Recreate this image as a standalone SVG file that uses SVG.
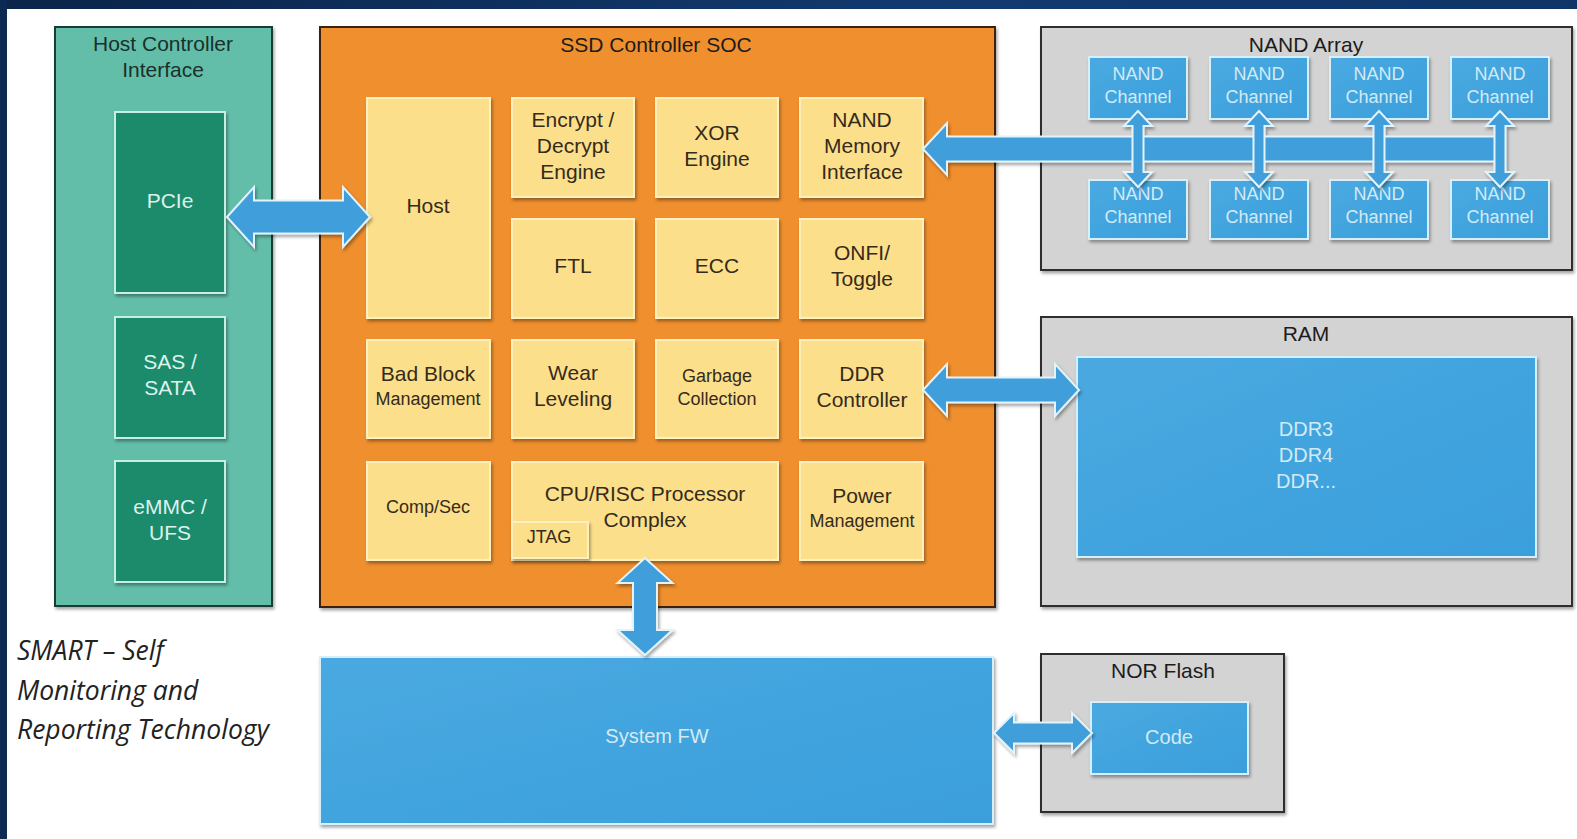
<svg xmlns="http://www.w3.org/2000/svg" width="1577" height="839" viewBox="0 0 1577 839">
  <defs>
    <filter id="shadow" x="-10%" y="-10%" width="125%" height="130%">
      <feDropShadow dx="1.5" dy="2.5" stdDeviation="1.8" flood-color="#000" flood-opacity="0.35"/>
    </filter>
    <linearGradient id="navy" x1="0" y1="0" x2="1" y2="0">
      <stop offset="0" stop-color="#0b2449"/>
      <stop offset="0.6" stop-color="#123a70"/>
      <stop offset="1" stop-color="#0f3568"/>
    </linearGradient>
    <linearGradient id="blueFill" x1="0" y1="0" x2="1" y2="1">
      <stop offset="0" stop-color="#4aa9e0"/>
      <stop offset="1" stop-color="#3a9fdc"/>
    </linearGradient>
    <style>
      text { font-family: "Liberation Sans", Arial, sans-serif; text-anchor: middle; }
      .outer-hci { fill: #62bea9; stroke: #1e3a33; stroke-width: 2; }
      .outer-soc { fill: #ef8f2e; stroke: #3a2410; stroke-width: 2; }
      .outer-gray { fill: #d3d3d3; stroke: #2e2e2e; stroke-width: 2; }
      .teal { fill: #1f8b6c; stroke: #c6efe3; stroke-width: 2; }
      .yellow { fill: #fcdf8a; stroke: #fff1bf; stroke-width: 2; }
      .blue { fill: url(#blueFill); stroke: #d6f0fb; stroke-width: 2; }
      .arrow { fill: #3f9fdb; stroke: #e2f3fb; stroke-width: 2; stroke-linejoin: miter; }
      .title { font-size: 21px; fill: #1c1c1c; }
      .hci-title { font-size: 21px; fill: #1a302b; }
      .lbl { font-size: 21px; fill: #352b1a; }
      .lbl-s { font-size: 18px; fill: #352b1a; }
      .lt { font-size: 21px; fill: #dcf2ec; }
      .blt { font-size: 20px; fill: #d3eaf5; }
      .ch { font-size: 18px; fill: #d3eaf5; }
      .note { font-family: "Open Sans", "Noto Sans", sans-serif; font-style: italic; font-size: 26.5px; fill: #222222; text-anchor: start; }
    </style>
  </defs>

  <!-- page background with dark frame at top and left -->
  <rect x="0" y="0" width="1577" height="839" fill="#ffffff"/>
  <rect x="0" y="0" width="1577" height="9" fill="url(#navy)"/>
  <rect x="0" y="0" width="7" height="839" fill="#0c2a52"/>

  <!-- Host Controller Interface -->
  <g id="host-controller-interface">
    <rect class="outer-hci" x="55" y="27" width="217" height="579" filter="url(#shadow)"/>
    <text class="hci-title" x="163" y="51">Host Controller</text>
    <text class="hci-title" x="163" y="77">Interface</text>
  </g>
  <g id="pcie">
    <rect class="teal" x="115" y="112" width="110" height="181" filter="url(#shadow)"/>
    <text class="lt" x="170" y="208">PCIe</text>
  </g>
  <g id="sas-sata">
    <rect class="teal" x="115" y="317" width="110" height="121" filter="url(#shadow)"/>
    <text class="lt" x="170" y="369">SAS /</text>
    <text class="lt" x="170" y="395">SATA</text>
  </g>
  <g id="emmc-ufs">
    <rect class="teal" x="115" y="461" width="110" height="121" filter="url(#shadow)"/>
    <text class="lt" x="170" y="514">eMMC /</text>
    <text class="lt" x="170" y="540">UFS</text>
  </g>

  <!-- SSD Controller SOC -->
  <g id="ssd-controller-soc">
    <rect class="outer-soc" x="320" y="27" width="675" height="580" filter="url(#shadow)"/>
    <text class="title" x="656" y="52">SSD Controller SOC</text>
  </g>
  <g id="host">
    <rect class="yellow" x="367" y="98" width="123" height="220" filter="url(#shadow)"/>
    <text class="lbl" x="428" y="213">Host</text>
  </g>
  <g id="encrypt-decrypt">
    <rect class="yellow" x="512" y="98" width="122" height="99" filter="url(#shadow)"/>
    <text class="lbl" x="573" y="127">Encrypt /</text>
    <text class="lbl" x="573" y="153">Decrypt</text>
    <text class="lbl" x="573" y="179">Engine</text>
  </g>
  <g id="xor-engine">
    <rect class="yellow" x="656" y="98" width="122" height="99" filter="url(#shadow)"/>
    <text class="lbl" x="717" y="140">XOR</text>
    <text class="lbl" x="717" y="166">Engine</text>
  </g>
  <g id="nand-memory-interface">
    <rect class="yellow" x="800" y="98" width="123" height="99" filter="url(#shadow)"/>
    <text class="lbl" x="862" y="127">NAND</text>
    <text class="lbl" x="862" y="153">Memory</text>
    <text class="lbl" x="862" y="179">Interface</text>
  </g>
  <g id="ftl">
    <rect class="yellow" x="512" y="219" width="122" height="99" filter="url(#shadow)"/>
    <text class="lbl" x="573" y="273">FTL</text>
  </g>
  <g id="ecc">
    <rect class="yellow" x="656" y="219" width="122" height="99" filter="url(#shadow)"/>
    <text class="lbl" x="717" y="273">ECC</text>
  </g>
  <g id="onfi-toggle">
    <rect class="yellow" x="800" y="219" width="123" height="99" filter="url(#shadow)"/>
    <text class="lbl" x="862" y="260">ONFI/</text>
    <text class="lbl" x="862" y="286">Toggle</text>
  </g>
  <g id="bad-block-management">
    <rect class="yellow" x="367" y="340" width="123" height="98" filter="url(#shadow)"/>
    <text class="lbl" x="428" y="381">Bad Block</text>
    <text class="lbl-s" x="428" y="405">Management</text>
  </g>
  <g id="wear-leveling">
    <rect class="yellow" x="512" y="340" width="122" height="98" filter="url(#shadow)"/>
    <text class="lbl" x="573" y="380">Wear</text>
    <text class="lbl" x="573" y="406">Leveling</text>
  </g>
  <g id="garbage-collection">
    <rect class="yellow" x="656" y="340" width="122" height="98" filter="url(#shadow)"/>
    <text class="lbl-s" x="717" y="382">Garbage</text>
    <text class="lbl-s" x="717" y="405">Collection</text>
  </g>
  <g id="ddr-controller">
    <rect class="yellow" x="800" y="340" width="123" height="98" filter="url(#shadow)"/>
    <text class="lbl" x="862" y="381">DDR</text>
    <text class="lbl" x="862" y="407">Controller</text>
  </g>
  <g id="comp-sec">
    <rect class="yellow" x="367" y="462" width="123" height="98" filter="url(#shadow)"/>
    <text class="lbl-s" x="428" y="513">Comp/Sec</text>
  </g>
  <g id="cpu-risc-processor-complex">
    <rect class="yellow" x="512" y="462" width="266" height="98" filter="url(#shadow)"/>
    <text class="lbl" x="645" y="501">CPU/RISC Processor</text>
    <text class="lbl" x="645" y="527">Complex</text>
  </g>
  <g id="jtag">
    <rect class="yellow" x="512" y="522" width="76" height="36" filter="url(#shadow)"/>
    <text class="lbl-s" x="549" y="543">JTAG</text>
  </g>
  <g id="power-management">
    <rect class="yellow" x="800" y="462" width="123" height="98" filter="url(#shadow)"/>
    <text class="lbl" x="862" y="503">Power</text>
    <text class="lbl-s" x="862" y="527">Management</text>
  </g>

  <!-- NAND Array -->
  <g id="nand-array">
    <rect class="outer-gray" x="1041" y="27" width="531" height="243" filter="url(#shadow)"/>
    <text class="title" x="1306" y="52">NAND Array</text>
  </g>
  <g id="nand-channel-1">
    <rect class="blue" x="1089" y="57" width="98" height="62" filter="url(#shadow)"/>
    <text class="ch" x="1138" y="80">NAND</text>
    <text class="ch" x="1138" y="103">Channel</text>
  </g>
  <g id="nand-channel-2">
    <rect class="blue" x="1210" y="57" width="98" height="62" filter="url(#shadow)"/>
    <text class="ch" x="1259" y="80">NAND</text>
    <text class="ch" x="1259" y="103">Channel</text>
  </g>
  <g id="nand-channel-3">
    <rect class="blue" x="1330" y="57" width="98" height="62" filter="url(#shadow)"/>
    <text class="ch" x="1379" y="80">NAND</text>
    <text class="ch" x="1379" y="103">Channel</text>
  </g>
  <g id="nand-channel-4">
    <rect class="blue" x="1451" y="57" width="98" height="62" filter="url(#shadow)"/>
    <text class="ch" x="1500" y="80">NAND</text>
    <text class="ch" x="1500" y="103">Channel</text>
  </g>
  <g id="nand-channel-5">
    <rect class="blue" x="1089" y="180" width="98" height="59" filter="url(#shadow)"/>
    <text class="ch" x="1138" y="200">NAND</text>
    <text class="ch" x="1138" y="223">Channel</text>
  </g>
  <g id="nand-channel-6">
    <rect class="blue" x="1210" y="180" width="98" height="59" filter="url(#shadow)"/>
    <text class="ch" x="1259" y="200">NAND</text>
    <text class="ch" x="1259" y="223">Channel</text>
  </g>
  <g id="nand-channel-7">
    <rect class="blue" x="1330" y="180" width="98" height="59" filter="url(#shadow)"/>
    <text class="ch" x="1379" y="200">NAND</text>
    <text class="ch" x="1379" y="223">Channel</text>
  </g>
  <g id="nand-channel-8">
    <rect class="blue" x="1451" y="180" width="98" height="59" filter="url(#shadow)"/>
    <text class="ch" x="1500" y="200">NAND</text>
    <text class="ch" x="1500" y="223">Channel</text>
  </g>

  <!-- RAM -->
  <g id="ram">
    <rect class="outer-gray" x="1041" y="317" width="531" height="289" filter="url(#shadow)"/>
    <text class="title" x="1306" y="341">RAM</text>
  </g>
  <g id="ddr">
    <rect class="blue" x="1077" y="357" width="459" height="200" filter="url(#shadow)"/>
    <text class="blt" x="1306" y="436">DDR3</text>
    <text class="blt" x="1306" y="462">DDR4</text>
    <text class="blt" x="1306" y="488">DDR...</text>
  </g>

  <!-- System firmware -->
  <g id="system-fw">
    <rect class="blue" x="320" y="657" width="673" height="167" filter="url(#shadow)"/>
    <text class="blt" x="657" y="743">System FW</text>
  </g>

  <!-- NOR Flash -->
  <g id="nor-flash">
    <rect class="outer-gray" x="1041" y="654" width="243" height="158" filter="url(#shadow)"/>
    <text class="title" x="1163" y="678">NOR Flash</text>
  </g>
  <g id="code">
    <rect class="blue" x="1091" y="702" width="157" height="72" filter="url(#shadow)"/>
    <text class="blt" x="1169" y="744">Code</text>
  </g>

  <!-- SMART note -->
  <g id="smart-note">
    <text class="note" x="17" y="660">SMART – Self</text>
    <text class="note" x="17" y="700">Monitoring and</text>
    <text class="note" x="17" y="739">Reporting Technology</text>
  </g>

  <!-- connectors -->
  <g id="connectors" filter="url(#shadow)">
    <!-- PCIe <-> Host -->
    <polygon class="arrow" points="227,217 254,187 254,200.5 343,200.5 343,187 370,217 343,247 343,233.5 254,233.5 254,247"/>
    <!-- DDR Controller <-> DDR -->
    <polygon class="arrow" points="923,390 947,364 947,377.5 1055,377.5 1055,364 1079,390 1055,416 1055,402.5 947,402.5 947,416"/>
    <!-- NAND bus -> NAND Memory Interface -->
    <polygon class="arrow" points="923,149 947,123 947,136.5 1496,136.5 1496,161.5 947,161.5 947,175"/>
    <!-- NAND bus <-> channels -->
    <polygon class="arrow" points="1138,111 1152,126 1143.5,126 1143.5,172 1152,172 1138,187 1124,172 1132.5,172 1132.5,126 1124,126"/>
    <polygon class="arrow" points="1259,111 1273,126 1264.5,126 1264.5,172 1273,172 1259,187 1245,172 1253.5,172 1253.5,126 1245,126"/>
    <polygon class="arrow" points="1379,111 1393,126 1384.5,126 1384.5,172 1393,172 1379,187 1365,172 1373.5,172 1373.5,126 1365,126"/>
    <polygon class="arrow" points="1500,111 1514,126 1505.5,126 1505.5,172 1514,172 1500,187 1486,172 1494.5,172 1494.5,126 1486,126"/>
    <!-- CPU complex <-> System FW -->
    <polygon class="arrow" points="645,558 672.5,583 657,583 657,630 672.5,630 645,655 617.5,630 633,630 633,583 617.5,583"/>
    <!-- System FW <-> Code -->
    <polygon class="arrow" points="994,733 1014,713 1014,722.5 1072,722.5 1072,713 1092,733 1072,753 1072,743.5 1014,743.5 1014,753"/>
  </g>
</svg>
